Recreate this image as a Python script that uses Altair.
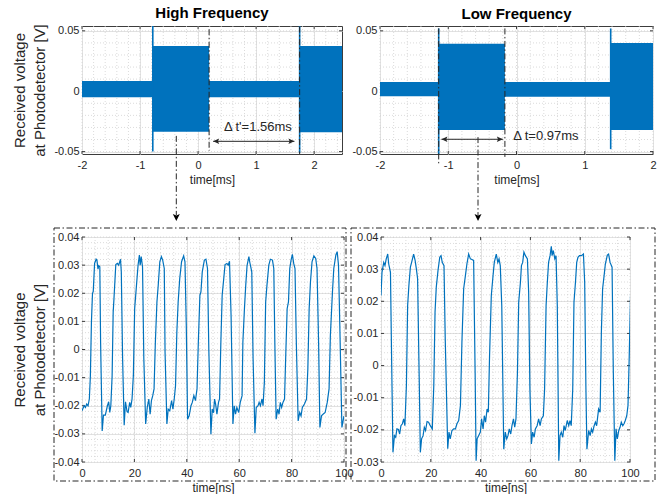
import altair as alt
import pandas as pd

BLUE = "#0072BD"
INK = "#262626"
FRAME = "#3c3c3c"
GRID = "#e2e2e2"
MINOR = "#d2d2d2"
FONT = "Liberation Sans"
DASHDOT = [6, 2.5, 1.5, 2.5]

# ---------------- High-frequency record (time in ms, voltage in V) ----------------
# burst envelope: each row holds from its start time until the next row
hf_seg_t = [-2.00, -0.78, 0.19, 1.75, 2.48]
hf_seg_hi = [0.0085, 0.0375, 0.0085, 0.0375, 0.0375]
hf_seg_lo = [-0.0050, -0.0335, -0.0050, -0.0340, -0.0340]
hf_spike_t = [-0.78, 1.75]
hf_spike_hi = [0.054, 0.054]
hf_spike_lo = [-0.050, -0.051]
hf_dt = 1.56                      # Δt' between the two markers
hf_mark_start = 0.19
hf_mark_top = [0.0513, 0.0535]
hf_mark_bot = [-0.0494, -0.0520]
hf_span = [0.26, 1.66]            # double arrow extent
hf_span_v = -0.0415
hf_label = "Δ t'=1.56ms"
hf_label_pos = (1.03, -0.030)
hf_drop = (-0.375, -0.037)        # start of the dash-dot pointer

# ---------------- Low-frequency record ----------------
lf_seg_t = [-2.00, -1.14, -0.17, 1.38, 2.00]
lf_seg_hi = [0.0077, 0.0394, 0.0077, 0.0400, 0.0400]
lf_seg_lo = [-0.0042, -0.0322, -0.0045, -0.0322, -0.0322]
lf_spike_t = [-1.14, 1.38]
lf_spike_hi = [0.052, 0.052]
lf_spike_lo = [-0.052, -0.048]
lf_dt = 0.97
lf_mark_start = -1.14
lf_mark_top = [0.052, 0.052]
lf_mark_bot = [-0.0597, -0.0544]
lf_span = [-1.10, -0.20]
lf_span_v = -0.0398
lf_label = "Δ t=0.97ms"
lf_label_pos = (0.43, -0.0373)
lf_drop = (-0.564, -0.038)

# ---------------- Zoomed waveforms (time in ns, voltage in V) ----------------
bl_t = [0.0, 0.8, 1.3, 1.8, 2.3, 2.8, 3.2,
        3.6, 4.0, 4.3, 4.8, 5.4, 5.7, 6.1, 6.4, 6.8, 7.1, 7.7,
        8.2, 8.9, 9.7, 10.2, 10.6, 11.0, 11.5,
        11.9, 12.2, 12.9, 13.5, 14.0, 14.7, 15.0, 15.5, 16.1,
        16.6, 17.2, 17.6, 18.2, 18.6, 19.1, 19.6,
        20.1, 20.8, 21.4, 21.9, 22.2, 22.6, 23.1, 23.6, 24.3,
        24.9, 25.5, 26.0, 26.5, 27.0, 27.5,
        28.0, 28.6, 29.1, 29.7, 30.3, 30.8, 31.4, 31.7, 32.4,
        32.9, 33.5, 34.2, 34.7, 35.2, 35.7,
        36.2, 36.7, 37.3, 38.0, 38.8, 39.3, 39.8, 40.3,
        40.9, 41.6, 42.1, 42.7, 43.3, 43.9,
        44.4, 45.0, 45.4, 45.9, 46.7, 47.3, 47.9, 48.4, 49.2,
        49.7, 50.2, 50.6, 51.0, 51.5, 52.1, 52.5,
        53.0, 53.5, 54.1, 54.6, 55.3, 55.8, 56.3, 56.9, 57.6,
        58.1, 58.6, 59.1, 59.8, 60.4, 61.1,
        61.4, 62.0, 62.5, 63.0, 63.7, 64.0, 64.8, 65.3, 66.0,
        66.5, 67.2, 67.6, 68.1, 68.7, 69.1, 69.6,
        70.1, 70.6, 71.3, 71.9, 72.7, 73.2, 73.6, 74.1,
        74.7, 75.2, 75.7, 76.2, 76.7, 77.3,
        77.8, 78.3, 78.8, 79.3, 79.8, 80.3, 80.8, 81.3, 81.8, 82.5,
        83.1, 83.6, 84.1, 84.9, 85.7, 86.2,
        86.7, 87.2, 87.8, 88.5, 89.2, 89.7, 90.3, 90.8,
        91.4, 92.0, 92.8, 93.6, 94.3,
        94.8, 95.6, 96.1, 96.9, 97.4, 97.9, 98.4, 99.2, 100.0]
bl_v = [-0.0218, -0.0200, -0.0206, -0.0194, -0.0200, -0.0176, -0.0093,
        0.0098, 0.0199, 0.0207, 0.0306, 0.0321, 0.0318, 0.0286, 0.0298, 0.0294, 0.0026, -0.0290,
        -0.0233, -0.0233, -0.0200, -0.0186, -0.0224, -0.0200, -0.0093,
        0.0133, 0.0180, 0.0302, 0.0306, 0.0300, 0.0321, 0.0276, -0.0033, -0.0269,
        -0.0186, -0.0221, -0.0224, -0.0188, -0.0206, -0.0176, -0.0093,
        0.0145, 0.0229, 0.0300, 0.0336, 0.0300, 0.0330, 0.0294, -0.0033, -0.0265,
        -0.0206, -0.0176, -0.0230, -0.0182, -0.0164, -0.0140,
        0.0026, 0.0169, 0.0229, 0.0312, 0.0330, 0.0318, 0.0288, -0.0010, -0.0265,
        -0.0212, -0.0218, -0.0182, -0.0212, -0.0176, -0.0129,
        0.0062, 0.0169, 0.0252, 0.0312, 0.0333, 0.0312, 0.0086, -0.0248,
        -0.0236, -0.0200, -0.0188, -0.0164, -0.0182, -0.0140,
        0.0026, 0.0193, 0.0205, 0.0276, 0.0318, 0.0321, 0.0288, 0.0002, -0.0301,
        -0.0212, -0.0225, -0.0176, -0.0194, -0.0230, -0.0188, -0.0176,
        0.0026, 0.0193, 0.0252, 0.0302, 0.0306, 0.0300, 0.0314, 0.0121, -0.0265,
        -0.0200, -0.0230, -0.0206, -0.0224, -0.0188, -0.0164,
        0.0026, 0.0145, 0.0229, 0.0298, 0.0330, 0.0312, 0.0276, -0.0033, -0.0298,
        -0.0206, -0.0200, -0.0188, -0.0200, -0.0176, -0.0200, -0.0117,
        0.0169, 0.0229, 0.0300, 0.0321, 0.0318, 0.0288, 0.0026, -0.0248,
        -0.0212, -0.0230, -0.0188, -0.0206, -0.0188, -0.0176,
        -0.0010, 0.0145, 0.0169, 0.0288, 0.0318, 0.0338, 0.0306, 0.0288, 0.0026, -0.0254,
        -0.0224, -0.0236, -0.0206, -0.0194, -0.0176, -0.0069,
        0.0145, 0.0240, 0.0312, 0.0333, 0.0324, 0.0288, 0.0026, -0.0277,
        -0.0236, -0.0230, -0.0224, -0.0188, -0.0140,
        0.0050, 0.0205, 0.0288, 0.0336, 0.0348, 0.0300, 0.0086, -0.0277, -0.0236]

br_t = [0.0, 0.4, 1.1, 1.6, 2.1, 2.7, 3.1, 3.8, 4.3, 4.8,
        5.4, 5.9, 6.4, 7.0, 7.5, 8.0, 8.6, 9.1, 9.6, 10.2,
        10.7, 11.2, 11.8, 12.3, 13.1, 13.7, 14.2, 14.7, 15.3, 15.8,
        16.3, 16.9, 17.4, 17.9, 18.5, 19.1, 19.8, 20.6, 21.2,
        21.7, 22.2, 22.9, 23.6, 24.1, 24.6, 25.3, 25.8, 26.8,
        27.3, 27.8, 28.5, 29.2, 29.9, 30.5, 31.2, 31.9,
        32.5, 33.2, 33.9, 34.5, 35.2, 35.9, 36.5, 37.2, 37.8, 38.2,
        38.6, 39.2, 39.9, 40.4, 41.0, 41.5, 42.0, 42.6, 43.1,
        43.6, 44.3, 45.0, 45.5, 46.3, 46.9, 47.4, 47.9, 48.5, 49.3,
        49.9, 50.5, 51.0, 51.5, 52.1, 52.6, 53.2, 53.7, 54.2, 54.8,
        55.3, 56.0, 56.4, 56.9, 57.4, 58.0, 58.8, 59.3, 59.8, 60.4,
        60.9, 61.5, 62.0, 62.7, 63.3, 63.9, 64.4, 65.2, 65.7,
        66.3, 66.8, 67.3, 67.9, 68.4, 68.7, 69.2, 69.8, 70.3, 70.8, 71.4,
        71.9, 72.4, 73.0, 73.5, 74.0, 74.8, 75.4, 75.9, 76.4, 77.0,
        77.5, 78.1, 78.6, 79.1, 79.7, 80.5, 81.3, 81.8, 82.3, 82.7,
        83.4, 84.0, 84.5, 85.0, 85.6, 86.1, 86.6, 87.4, 88.0,
        88.5, 89.0, 89.6, 90.1, 90.9, 91.4, 92.0, 92.8, 93.3, 93.9,
        94.4, 94.9, 95.5, 96.0, 96.5, 97.1, 97.6, 98.1, 98.7, 99.2, 99.7, 100.3]
br_v = [0.0218, 0.0290, 0.0321, 0.0311, 0.0332, 0.0347, 0.0316, 0.0290, 0.0000, -0.0270,
        -0.0218, -0.0223, -0.0197, -0.0199, -0.0213, -0.0187, -0.0181, -0.0166, -0.0187, -0.0062,
        0.0187, 0.0249, 0.0306, 0.0321, 0.0347, 0.0327, 0.0301, 0.0270, -0.0020, -0.0270,
        -0.0228, -0.0218, -0.0192, -0.0202, -0.0174, -0.0176, -0.0187, -0.0197, -0.0062,
        0.0166, 0.0244, 0.0296, 0.0337, 0.0342, 0.0321, 0.0311, 0.0083, -0.0259,
        -0.0207, -0.0228, -0.0202, -0.0197, -0.0197, -0.0181, -0.0171, -0.0124,
        0.0073, 0.0239, 0.0280, 0.0316, 0.0347, 0.0332, 0.0330, 0.0327, -0.0020, -0.0296,
        -0.0228, -0.0218, -0.0207, -0.0166, -0.0197, -0.0156, -0.0176, -0.0135, -0.0145,
        0.0031, 0.0218, 0.0280, 0.0321, 0.0347, 0.0321, 0.0332, 0.0311, 0.0187, -0.0260,
        -0.0207, -0.0228, -0.0218, -0.0197, -0.0213, -0.0187, -0.0166, -0.0192, -0.0166, -0.0020,
        0.0197, 0.0259, 0.0311, 0.0321, 0.0353, 0.0342, 0.0332, 0.0228, -0.0073, -0.0244,
        -0.0207, -0.0223, -0.0197, -0.0187, -0.0166, -0.0187, -0.0166, -0.0156, -0.0073,
        0.0187, 0.0259, 0.0321, 0.0342, 0.0371, 0.0342, 0.0358, 0.0332, 0.0342, 0.0187, -0.0296,
        -0.0218, -0.0207, -0.0223, -0.0187, -0.0202, -0.0171, -0.0187, -0.0171, -0.0187, -0.0073,
        0.0197, 0.0259, 0.0321, 0.0337, 0.0342, 0.0342, 0.0347, 0.0259, -0.0073, -0.0260,
        -0.0202, -0.0218, -0.0197, -0.0207, -0.0187, -0.0176, -0.0187, -0.0135, -0.0145,
        0.0104, 0.0239, 0.0280, 0.0316, 0.0344, 0.0347, 0.0321, 0.0306, -0.0020, -0.0296,
        -0.0197, -0.0228, -0.0202, -0.0192, -0.0176, -0.0187, -0.0181, -0.0171, -0.0156, -0.0124, 0.0031, 0.0249]

# ---------------- axis ticks ----------------
top_xticks = [-2, -1, 0, 1, 2]
top_yticks = [-0.05, 0, 0.05]
bot_xticks = [0, 20, 40, 60, 80, 100]
bl_yticks = [-0.04, -0.03, -0.02, -0.01, 0, 0.01, 0.02, 0.03, 0.04]
br_yticks = [-0.03, -0.02, -0.01, 0, 0.01, 0.02, 0.03, 0.04]

LEFT_HEAD = "M0,0 L1,-0.45 L0.8,0 L1,0.45 Z"
RIGHT_HEAD = "M0,0 L-1,-0.45 L-0.8,0 L-1,0.45 Z"
DOWN_HEAD = "M0,0 L-0.5,-1 L0,-0.8 L0.5,-1 Z"

Y_TITLE = ["Received voltage", "at Photodetector [V]"]


def sc(dom):
    return alt.Scale(domain=dom, nice=False, zero=False)


def x_axis(values, title):
    return alt.Axis(values=values, title=title, grid=True, gridColor=GRID, gridWidth=1,
                    ticks=False, domain=False, labelExpr="toString(datum.value)",
                    labelFontSize=11, labelColor=INK, labelPadding=5, labelFlush=False,
                    labelOverlap=False, titleFontSize=12, titleFontWeight="normal",
                    titleColor=INK, titlePadding=4)


def y_axis(values, title=None):
    kw = dict(values=values, grid=True, gridColor=GRID, gridWidth=1, ticks=False,
              domain=False, labelExpr="toString(datum.value)", labelFontSize=11,
              labelColor=INK, labelPadding=3, labelOverlap=False, labelFlush=False)
    if title is not None:
        kw.update(title=title, titleFontSize=15, titleFontWeight="normal", titleColor=INK,
                  titleLineHeight=20, titlePadding=6)
    else:
        kw.update(title=None)
    return alt.Axis(**kw)


class Axes:
    """Shared scale + axis definitions used by every layer of one panel."""

    def __init__(self, xdom, ydom, xticks, yticks, xtitle, ytitle):
        self.xs, self.ys = sc(xdom), sc(ydom)
        self.xa, self.ya = x_axis(xticks, xtitle), y_axis(yticks, ytitle)

    def X(self, f):
        return alt.X(f, scale=self.xs, axis=self.xa)

    def Y(self, f):
        return alt.Y(f, scale=self.ys, axis=self.ya)


def frame_layers(ax, xminor, yminor, xticks, yticks, w, h):
    """Dotted minor grid plus short inward ticks on all four sides."""
    layers = [
        alt.Chart(pd.DataFrame({"t": xminor})).mark_rule(
            color=MINOR, strokeDash=[1, 2], strokeWidth=0.8).encode(
            x=ax.X("t:Q"), y=alt.value(0), y2=alt.value(h)),
        alt.Chart(pd.DataFrame({"v": yminor})).mark_rule(
            color=MINOR, strokeDash=[1, 2], strokeWidth=0.8).encode(
            y=ax.Y("v:Q"), x=alt.value(0), x2=alt.value(w)),
    ]
    xt = pd.DataFrame({"t": xticks})
    yt = pd.DataFrame({"v": yticks})
    for a, b in ((h, h - 3), (0, 3)):
        layers.append(alt.Chart(xt).mark_rule(color=FRAME).encode(
            x=ax.X("t:Q"), y=alt.value(a), y2=alt.value(b)))
    for a, b in ((0, 3), (w - 3, w)):
        layers.append(alt.Chart(yt).mark_rule(color=FRAME).encode(
            y=ax.Y("v:Q"), x=alt.value(a), x2=alt.value(b)))
    return layers


def burst_panel(title, seg_t, seg_hi, seg_lo, spike_t, spike_hi, spike_lo,
                mark_start, dt, mark_top, mark_bot, span, span_v, label, label_pos,
                drop, xdom, w, h, ytitle):
    ax = Axes(xdom, [-0.052, 0.054], top_xticks, top_yticks, "time[ms]", ytitle)
    n = int(round((xdom[1] - xdom[0]) / 0.2))
    xminor = [round(xdom[0] + 0.2 * i, 2) for i in range(n + 1)]
    yminor = [round(-0.05 + 0.01 * i, 3) for i in range(11)]
    layers = frame_layers(ax, xminor, yminor, top_xticks, top_yticks, w, h)

    env = pd.DataFrame({"t": seg_t, "hi": seg_hi, "lo": seg_lo})
    layers.append(alt.Chart(env).mark_area(interpolate="step-after", color=BLUE, opacity=1).encode(
        x=ax.X("t:Q"), y=ax.Y("hi:Q"), y2="lo:Q"))

    spikes = pd.DataFrame({"t": spike_t, "hi": spike_hi, "lo": spike_lo})
    layers.append(alt.Chart(spikes).mark_rule(color=BLUE, strokeWidth=1.6).encode(
        x=ax.X("t:Q"), y=ax.Y("hi:Q"), y2="lo:Q"))

    marks = pd.DataFrame({"t": [mark_start, mark_start + dt], "hi": mark_top, "lo": mark_bot})
    layers.append(alt.Chart(marks).mark_rule(color=INK, strokeDash=DASHDOT, strokeWidth=1).encode(
        x=ax.X("t:Q"), y=ax.Y("hi:Q"), y2="lo:Q"))

    arrow = pd.DataFrame({"t": [span[0]], "t2": [span[1]], "v": [span_v]})
    layers.append(alt.Chart(arrow).mark_rule(color=INK, strokeWidth=1).encode(
        x=ax.X("t:Q"), x2="t2:Q", y=ax.Y("v:Q")))
    for shape, tval in ((LEFT_HEAD, span[0]), (RIGHT_HEAD, span[1])):
        layers.append(alt.Chart(pd.DataFrame({"t": [tval], "v": [span_v]})).mark_point(
            shape=shape, filled=True, size=144, color=INK, opacity=1, strokeWidth=0).encode(
            x=ax.X("t:Q"), y=ax.Y("v:Q")))

    lab = pd.DataFrame({"t": [label_pos[0]], "v": [label_pos[1]], "txt": [label]})
    layers.append(alt.Chart(lab).mark_text(fontSize=13, color=INK, align="center",
                                           baseline="middle").encode(
        x=ax.X("t:Q"), y=ax.Y("v:Q"), text="txt:N"))

    dp = pd.DataFrame({"t": [drop[0]], "v": [drop[1]]})
    layers.append(alt.Chart(dp).mark_rule(color=INK, strokeDash=DASHDOT, strokeWidth=1).encode(
        x=ax.X("t:Q"), y=ax.Y("v:Q"), y2=alt.value(h + 61)))
    layers.append(alt.Chart(dp).mark_point(shape=DOWN_HEAD, filled=True, size=196, color="black",
                                           opacity=1, strokeWidth=0).encode(
        x=ax.X("t:Q"), y=alt.value(h + 67)))

    return alt.layer(*layers).properties(
        width=w, height=h,
        title=alt.TitleParams(title, fontSize=15, fontWeight="bold", color="black",
                              frame="group", anchor="middle", offset=3))


def wave_panel(t, v, ydom, yticks, w, h, ytitle, box):
    ax = Axes([0, 100], ydom, bot_xticks, yticks, "time[ns]", ytitle)
    xminor = [5 * i for i in range(21)]
    n = int(round((ydom[1] - ydom[0]) / 0.002))
    yminor = [round(ydom[0] + 0.002 * i, 3) for i in range(n + 1)]
    layers = frame_layers(ax, xminor, yminor, bot_xticks, yticks, w, h)
    df = pd.DataFrame({"t": t, "v": v})
    layers.append(alt.Chart(df).mark_line(color=BLUE, strokeWidth=1.2, clip=True).encode(
        x=ax.X("t:Q"), y=ax.Y("v:Q")))
    layers.append(alt.Chart(pd.DataFrame({"k": [0]})).mark_rect(
        filled=False, stroke=INK, strokeWidth=1, strokeDash=DASHDOT).encode(
        x=alt.value(box[0]), x2=alt.value(box[1]), y=alt.value(box[2]), y2=alt.value(box[3])))
    return alt.layer(*layers).properties(width=w, height=h)


tl = burst_panel("High Frequency", hf_seg_t, hf_seg_hi, hf_seg_lo, hf_spike_t, hf_spike_hi,
                 hf_spike_lo, hf_mark_start, hf_dt, hf_mark_top, hf_mark_bot, hf_span, hf_span_v,
                 hf_label, hf_label_pos, hf_drop, [-2, 2.48], 260, 128, Y_TITLE)
tr = burst_panel("Low Frequency", lf_seg_t, lf_seg_hi, lf_seg_lo, lf_spike_t, lf_spike_hi,
                 lf_spike_lo, lf_mark_start, lf_dt, lf_mark_top, lf_mark_bot, lf_span, lf_span_v,
                 lf_label, lf_label_pos, lf_drop, [-2, 2], 273, 128, None)
bl = wave_panel(bl_t, bl_v, [-0.04, 0.04], bl_yticks, 262, 225, Y_TITLE, (-28, 264, -9, 244))
br = wave_panel(br_t, br_v, [-0.03, 0.04], br_yticks, 249, 225, None, (-30, 274, -9, 244))

row1 = alt.hconcat(tl, tr, spacing=38, bounds="flush")
row2 = alt.hconcat(bl, br, spacing=37, bounds="flush")

chart = alt.vconcat(row1, row2, spacing=5).properties(
    padding={"left": 12, "top": 5, "right": 0, "bottom": 0},
    background="white",
).configure(font=FONT).configure_view(stroke=FRAME, strokeWidth=1)

chart.save("out.html", embed_options={"renderer": "svg", "actions": False})
